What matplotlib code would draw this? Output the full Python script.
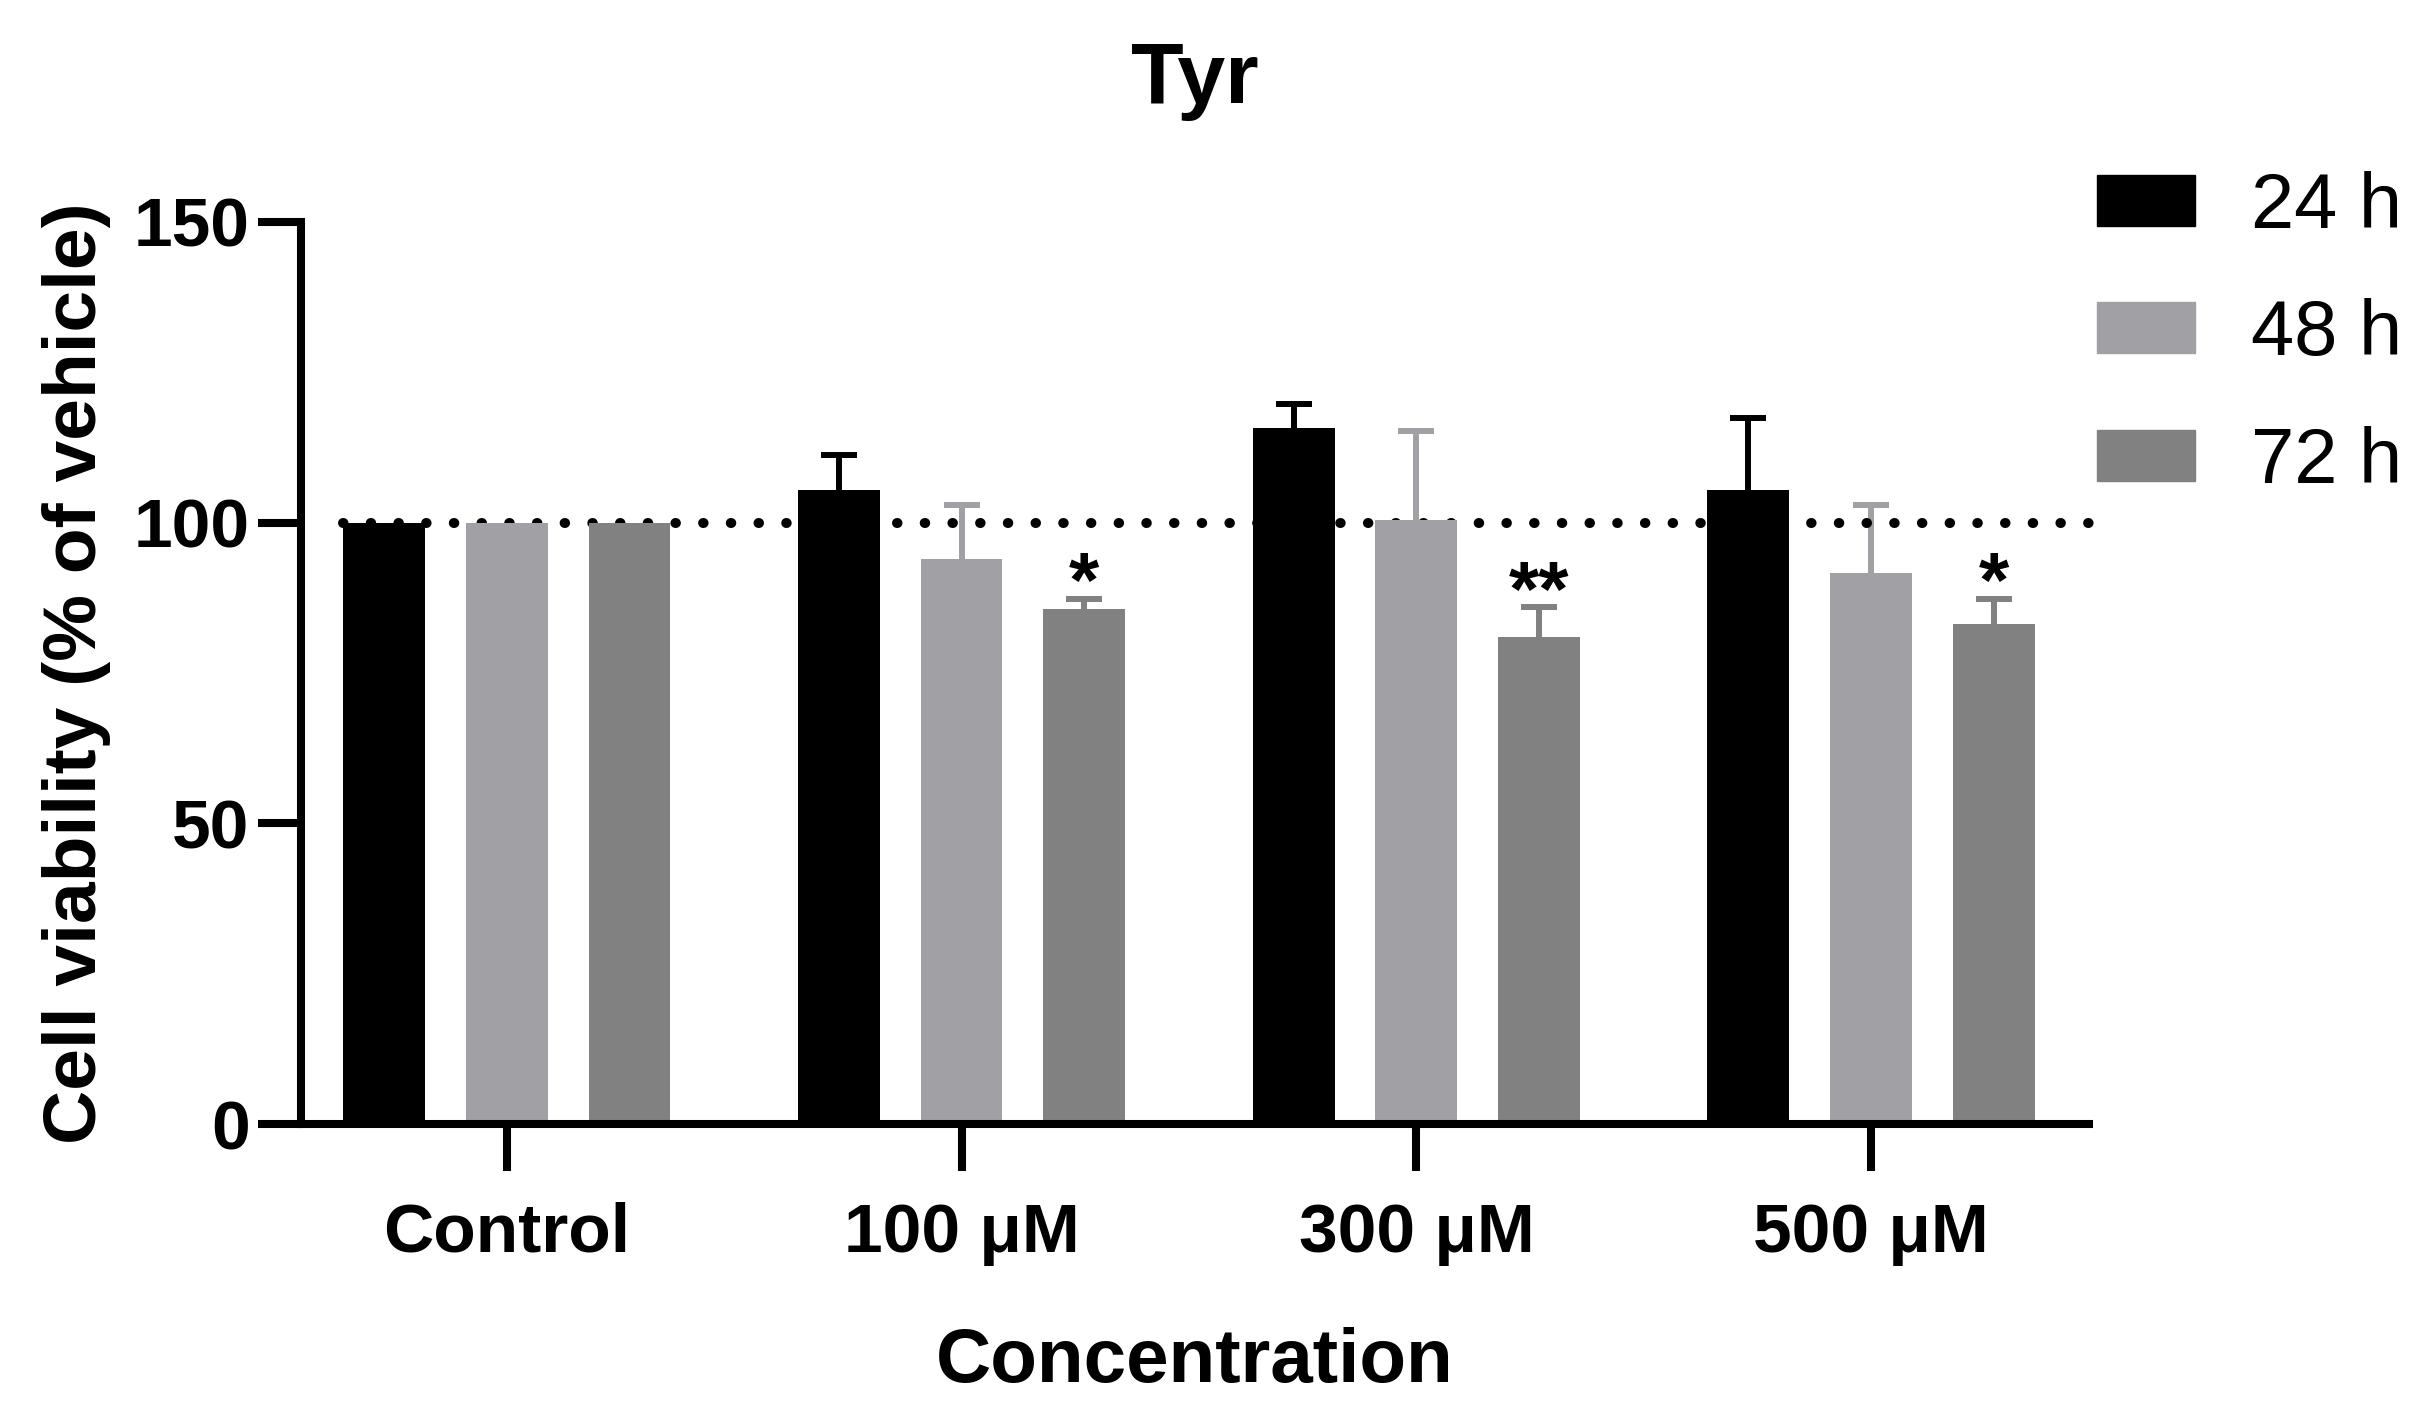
import numpy as np
import matplotlib.pyplot as plt
from matplotlib.patches import Patch

# Данные
groups = ['Control', '100 μM', '300 μM', '500 μM']
series = ['24 h', '48 h', '72 h']
mean_24 = [100, 105.5, 115.8, 105.5]
mean_48 = [100, 94.0, 100.4, 91.6]
mean_72 = [100, 85.7, 81.0, 83.1]
err_24 = [0, 5.7, 3.9, 11.9]
err_48 = [0, 9.0, 14.8, 11.4]
err_72 = [0, 1.6, 4.9, 4.2]
stars_72 = ['', '*', '**', '*']
colors = ['#000000', '#a1a1a5', '#818181']

means = [mean_24, mean_48, mean_72]
errs = [err_24, err_48, err_72]

plt.rcParams['font.family'] = ['Liberation Sans', 'DejaVu Sans']

fig = plt.figure(figsize=(24.36, 14.11), dpi=100)
ax = fig.add_axes([0.1236, 0.2034, 0.734, 0.6393])

x = np.arange(len(groups))
step = 0.27
width = 0.18
for i in range(3):
    pos = x + (i - 1) * step
    ax.bar(pos, means[i], width=width, color=colors[i], zorder=2)
    has_err = np.array(errs[i]) > 0
    m = np.array(means[i])[has_err]
    e = np.array(errs[i])[has_err]
    eb = ax.errorbar(pos[has_err], m, yerr=[np.zeros_like(e), e],
                     fmt='none', ecolor=colors[i], elinewidth=4.3, capsize=13,
                     capthick=4.3, zorder=1)
    # убираем нижние «шапки» — только верхняя часть погрешности
    eb.lines[1][0].set_visible(False)

# Звёздочки значимости
for j in range(len(groups)):
    if stars_72[j]:
        ax.text(x[j] + step, mean_72[j] + err_72[j] - 4.0, stars_72[j],
                ha='center', va='bottom', fontsize=56, fontweight='bold')

# Пунктирная линия 100%
xmin, xmax = -0.452, 3.479
ax.plot([x[0] - step - width / 2, xmax], [100, 100], color='black',
        linewidth=7.2, linestyle=(0, (0.05, 2.72)), dash_capstyle='round',
        zorder=1, clip_on=False)

ax.set_xlim(xmin, xmax)
ax.set_ylim(0, 150)
ax.set_yticks([0, 50, 100, 150])
ax.set_xticks(x)
ax.set_xticklabels(groups)

for s in ['top', 'right']:
    ax.spines[s].set_visible(False)
for s in ['left', 'bottom']:
    ax.spines[s].set_linewidth(5.8)
ax.tick_params(axis='y', length=31, width=5.8, pad=6, labelsize=50)
ax.tick_params(axis='x', length=34, width=5.8, pad=22, labelsize=50)
for lab in ax.get_xticklabels() + ax.get_yticklabels():
    lab.set_fontweight('bold')

ax.set_ylabel('Cell viability (% of vehicle)', fontsize=54, fontweight='bold', labelpad=16)
ax.set_xlabel('Concentration', fontsize=55, fontweight='bold', labelpad=44)
ax.set_title('Tyr', fontsize=62, fontweight='bold', pad=86)

handles = [Patch(color=c) for c in colors]
fig.legend(handles, series, loc='upper left', bbox_to_anchor=(0.861, 0.879),
           frameon=False, fontsize=56, handlelength=1.26, handleheight=0.63,
           handletextpad=0.72, labelspacing=0.7, borderpad=0, borderaxespad=0)

plt.savefig('out.png', dpi=100)
